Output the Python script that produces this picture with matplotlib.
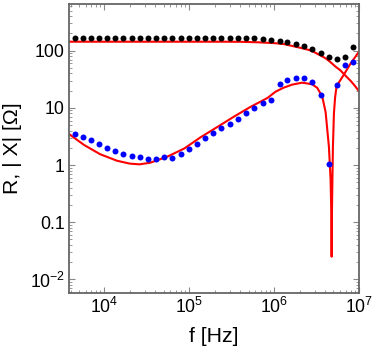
import matplotlib
matplotlib.use("Agg")
import matplotlib.pyplot as plt
from matplotlib.ticker import LogLocator, NullFormatter

plt.rcParams["font.family"] = ["Liberation Sans", "DejaVu Sans"]
plt.rcParams["mathtext.default"] = "regular"

# measured frequencies [Hz]
freq = [4.51e3, 5.65e3, 6.96e3, 8.66e3, 1.086e4, 1.35e4, 1.679e4, 2.105e4,
        2.617e4, 3.253e4, 4.08e4, 5.072e4, 6.305e4, 7.907e4, 9.827e4,
        1.233e5, 1.532e5, 1.922e5, 2.389e5, 2.998e5, 3.727e5, 4.674e5,
        5.861e5, 7.353e5, 9.225e5, 1.157e6, 1.425e6, 1.804e6, 2.243e6,
        2.813e6, 3.529e6, 4.428e6, 5.55e6, 6.84e6, 8.50e6]

# measured resistance R [Ohm]
r_meas = [170, 170, 170, 170, 170, 170, 170, 170, 170, 170, 170, 170,
          170, 170, 170, 170, 170, 170, 170, 170, 170, 165, 164, 160,
          154, 150, 142, 132, 122, 106, 91, 77, 71, 77, 117]

# measured reactance |X| [Ohm]
x_meas = [3.54, 3.10, 2.71, 2.34, 1.99, 1.79, 1.58, 1.46, 1.39, 1.30,
          1.30, 1.39, 1.35, 1.54, 1.91, 2.34, 2.94, 3.64, 4.45, 5.30,
          6.48, 8.14, 9.9, 12.1, 14.0, 26.5, 30.5, 32.9, 32.9, 28.7,
          16.9, 1.04, 25.1, 55.8, 63.8]

# model curve for R
model_f_r = [3.8e3, 1e5, 2.66e5, 4.0e5, 6.6e5, 1.04e6, 1.3e6, 1.63e6,
             2.05e6, 2.57e6, 3.0e6, 3.6e6, 4.04e6, 4.5e6, 5.3e6, 6.0e6,
             7.0e6, 8.0e6, 9.0e6, 1.0e7]
model_r = [143.6, 143.6, 143.5, 143, 140, 135, 130.5, 121, 112, 103,
           93.5, 81, 73.6, 65, 52.5, 45.7, 36, 29.5, 24, 19.5]

# model curve for |X|
model_f_x = [3.8e3, 5.76e3, 8.9e3, 1.41e4, 2.0e4, 2.6e4, 3.47e4, 5.5e4,
             8.74e4, 1.35e5, 2.14e5, 3.31e5, 5.26e5, 8.35e5, 1.04e6,
             1.29e6, 1.63e6, 2.14e6, 2.8e6, 3.23e6, 3.69e6, 4.04e6,
             4.42e6, 4.63e6, 4.72e6, 4.76e6, 4.80e6, 4.86e6, 4.93e6,
             5.065e6, 5.235e6, 5.45e6, 6.65e6, 7.98e6, 1.0e7]
model_x = [3.52, 2.25, 1.55, 1.19, 1.06, 1.03, 1.10, 1.40,
           1.95, 3.04, 4.63, 6.93, 10.4, 14.9, 19.2,
           22.5, 25.5, 27.6, 25.9, 22.3, 15.7, 8.5,
           2.1, 0.55, 0.146, 0.025, 0.15, 0.55, 2.1,
           8.05, 15.5, 24.1, 38.4, 60, 96]

x_ticks = [1e4, 1e5, 1e6, 1e7]
x_labels = ["$10^{4}$", "$10^{5}$", "$10^{6}$", "$10^{7}$"]
y_ticks = [1e-2, 0.1, 1, 10, 100]
y_labels = ["$10^{-2}$", "0.1", "1", "10", "100"]

fig = plt.figure(figsize=(3.74, 3.51), dpi=100)
ax = fig.add_axes([69 / 374, 1 - 293 / 351, 290 / 374, 289 / 351])
ax.set_xscale("log")
ax.set_yscale("log")

ax.plot(model_f_r, model_r, color="red", lw=1.5, zorder=2)
ax.plot(model_f_x, model_x, color="red", lw=1.5, zorder=2)
ax.plot(freq, r_meas, "o", color="black", ms=4.3, mec="none", zorder=3)
ax.plot(freq, x_meas, "o", color="blue", ms=4.3, mec="none", zorder=3)

ax.set_xlim(3830, 1.0e7)
ax.set_ylim(0.0058, 655)

ax.set_xticks(x_ticks)
ax.set_xticklabels(x_labels)
ax.set_yticks(y_ticks)
ax.set_yticklabels(y_labels)
ax.xaxis.set_minor_locator(LogLocator(base=10, subs=range(2, 10), numticks=20))
ax.yaxis.set_minor_locator(LogLocator(base=10, subs=range(2, 10), numticks=20))
ax.xaxis.set_minor_formatter(NullFormatter())
ax.yaxis.set_minor_formatter(NullFormatter())

ax.tick_params(which="both", direction="in", top=True, right=True,
               color="#888888", labelsize=12.7)
ax.tick_params(which="major", length=4.5, width=0.8)
ax.tick_params(which="minor", length=2.5, width=0.6)
ax.tick_params(axis="x", pad=2.5)
ax.tick_params(axis="y", pad=3)
for s in ax.spines.values():
    s.set_color("#666666")
    s.set_linewidth(1.3)

fig.text(214 / 374, 1 - 337 / 351, "f [Hz]", ha="center", va="center", fontsize=15.3)
fig.text(13 / 374, 1 - 148 / 351, "R, | X| [Ω]", ha="center", va="center",
         rotation=90, fontsize=15.3)

fig.savefig("out.png", dpi=100)
